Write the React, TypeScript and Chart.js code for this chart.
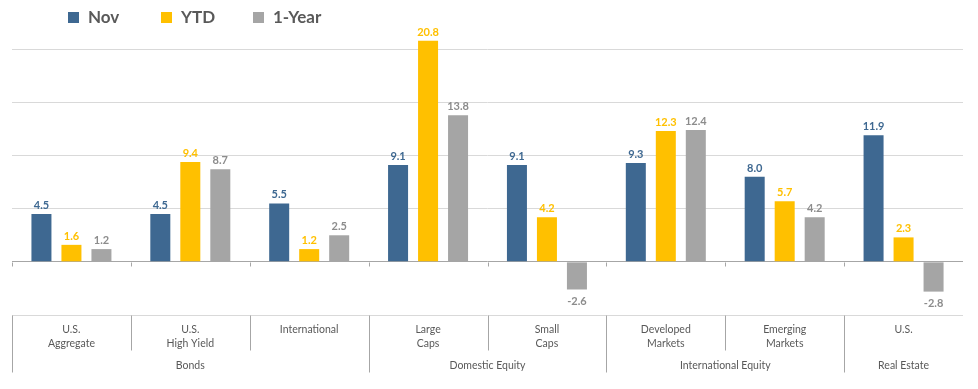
import React, { useEffect, useRef } from "react";
import { Chart, registerables } from "chart.js";

Chart.register(...registerables);

const categories: string[][] = [
  ["U.S.", "Aggregate"],
  ["U.S.", "High Yield"],
  ["International"],
  ["Large", "Caps"],
  ["Small", "Caps"],
  ["Developed", "Markets"],
  ["Emerging", "Markets"],
  ["U.S."],
];

const groupNames = ["Bonds", "Domestic Equity", "International Equity", "Real Estate"];
const groupSizes = [3, 2, 2, 1];

const seriesNames = ["Nov", "YTD", "1-Year"];
const novValues = [4.5, 4.5, 5.5, 9.1, 9.1, 9.3, 8.0, 11.9];
const ytdValues = [1.6, 9.4, 1.2, 20.8, 4.2, 12.3, 5.7, 2.3];
const yearValues = [1.2, 8.7, 2.5, 13.8, -2.6, 12.4, 4.2, -2.8];

const yTicks = [-5, 0, 5, 10, 15, 20];

const barColors = ["#3E6891", "#FFC000", "#A5A5A5"];
const labelColors = ["#3E6891", "#FFC000", "#8C8C8C"];
const FONT = "Lato, 'Open Sans', sans-serif";

const dataLabelPlugin = {
  id: "dataLabels",
  afterDatasetsDraw(chart: any) {
    const ctx = chart.ctx;
    ctx.save();
    ctx.font = `bold 11px ${FONT}`;
    ctx.textAlign = "center";
    chart.data.datasets.forEach((ds: any, i: number) => {
      const meta = chart.getDatasetMeta(i);
      meta.data.forEach((bar: any, j: number) => {
        const v = ds.data[j];
        ctx.fillStyle = labelColors[i];
        if (v >= 0) {
          ctx.textBaseline = "bottom";
          ctx.fillText(v.toFixed(1), bar.x, bar.y - 3);
        } else {
          ctx.textBaseline = "top";
          ctx.fillText(v.toFixed(1), bar.x, bar.y + 6);
        }
      });
    });
    ctx.restore();
  },
};

const axisDecorPlugin = {
  id: "axisDecor",
  afterDraw(chart: any) {
    const ctx = chart.ctx;
    const y = chart.scales.y;
    const area = chart.chartArea;
    const n = categories.length;
    const step = (area.right - area.left) / n;
    const y0 = Math.round(y.getPixelForValue(0)) + 0.5;
    const yb = Math.round(area.bottom) + 0.5;
    ctx.save();
    ctx.strokeStyle = "#A6A6A6";
    ctx.lineWidth = 1;
    for (let i = 0; i < n; i++) {
      const px = Math.round(area.left + i * step) + 0.5;
      ctx.beginPath();
      ctx.moveTo(px, y0);
      ctx.lineTo(px, y0 + 4);
      ctx.stroke();
    }
    const groupStarts: number[] = [];
    let acc = 0;
    groupSizes.forEach((s) => {
      groupStarts.push(acc);
      acc += s;
    });
    for (let i = 0; i < n; i++) {
      const px = Math.round(area.left + i * step) + 0.5;
      const isGroup = groupStarts.includes(i);
      ctx.beginPath();
      ctx.moveTo(px, yb);
      ctx.lineTo(px, yb + (isGroup ? 57 : 35));
      ctx.stroke();
    }
    ctx.fillStyle = "#595959";
    ctx.font = `10.5px ${FONT}`;
    ctx.textAlign = "center";
    ctx.textBaseline = "middle";
    groupNames.forEach((g, k) => {
      const start = groupStarts[k];
      const end = start + groupSizes[k];
      const cx = area.left + ((start + end) / 2) * step;
      ctx.fillText(g, cx, yb + 50);
    });
    ctx.restore();
  },
};

const legendX = [68, 161, 253];

const legendPlugin = {
  id: "customLegend",
  afterDraw(chart: any) {
    const ctx = chart.ctx;
    ctx.save();
    ctx.font = `bold 17px ${FONT}`;
    ctx.textBaseline = "middle";
    ctx.textAlign = "left";
    seriesNames.forEach((name, i) => {
      const px = legendX[i];
      ctx.fillStyle = barColors[i];
      ctx.fillRect(px, 12, 11, 11);
      ctx.fillStyle = "#595959";
      ctx.fillText(name, px + 20, 18);
    });
    ctx.restore();
  },
};

export default function App() {
  const ref = useRef<HTMLCanvasElement>(null);
  useEffect(() => {
    if (!ref.current) return;
    const datasets = [novValues, ytdValues, yearValues].map((d, i) => ({
      label: seriesNames[i],
      data: d,
      backgroundColor: barColors[i],
      categoryPercentage: 0.757,
      barPercentage: 0.667,
    }));
    const chart = new Chart(ref.current, {
      type: "bar",
      data: { labels: categories, datasets },
      options: {
        animation: false,
        responsive: false,
        maintainAspectRatio: false,
        layout: { padding: { left: 12, right: 15, top: 28, bottom: 0 } },
        plugins: { legend: { display: false }, tooltip: { enabled: false } },
        scales: {
          x: {
            offset: true,
            grid: { display: false, drawTicks: false },
            border: { display: false },
            ticks: {
              color: "#595959",
              font: { family: FONT, size: 10.5, lineHeight: 1.33 },
              padding: 8,
              maxRotation: 0,
              autoSkip: false,
            },
            afterFit: (s: any) => {
              s.height = 74;
            },
          },
          y: {
            min: -5,
            max: 22,
            afterBuildTicks: (s: any) => {
              s.ticks = yTicks.map((v) => ({ value: v }));
            },
            ticks: { display: false },
            border: { display: false },
            grid: {
              drawTicks: false,
              color: (c: any) => (c.tick && c.tick.value === 0 ? "#A6A6A6" : "#D9D9D9"),
              lineWidth: 1,
            },
            afterFit: (s: any) => {
              s.width = 0;
            },
          },
        },
      },
      plugins: [dataLabelPlugin, axisDecorPlugin, legendPlugin],
    });
    return () => chart.destroy();
  }, []);
  return (
    <div style={{ position: "absolute", left: 0, top: 0, width: 978, height: 389, background: "#fff" }}>
      <canvas ref={ref} width={978} height={389} />
    </div>
  );
}
